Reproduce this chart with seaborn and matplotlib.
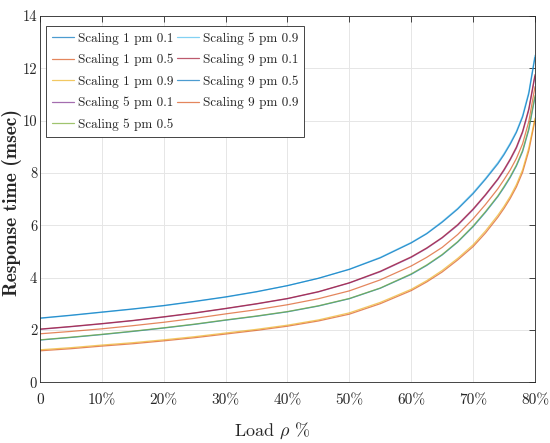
import numpy as np
import pandas as pd
import seaborn as sns
import matplotlib
matplotlib.use('Agg')
import matplotlib.pyplot as plt

# load (%) and response times (msec)
load_pct = [0, 5, 10, 15, 20, 25, 30, 35, 40, 45, 50, 55, 60, 62.5, 65, 67.5,
            70, 72, 74, 75, 76, 77, 78, 79, 80]

s1_01 = [1.62, 1.72, 1.83, 1.95, 2.08, 2.22, 2.38, 2.53, 2.70, 2.92, 3.20, 3.60, 4.13,
         4.47, 4.87, 5.36, 5.95, 6.50, 7.10, 7.45, 7.83, 8.27, 8.82, 9.65, 10.90]
s1_05 = [1.21, 1.29, 1.39, 1.48, 1.59, 1.71, 1.85, 1.99, 2.15, 2.35, 2.61, 3.01, 3.51,
         3.84, 4.22, 4.68, 5.19, 5.71, 6.31, 6.65, 7.03, 7.47, 8.03, 8.85, 10.02]
s1_09 = [1.25, 1.33, 1.43, 1.52, 1.63, 1.75, 1.89, 2.03, 2.19, 2.39, 2.66, 3.06, 3.56,
         3.89, 4.28, 4.74, 5.26, 5.79, 6.39, 6.73, 7.11, 7.56, 8.13, 8.96, 10.10]
s5_01 = [2.03, 2.13, 2.24, 2.36, 2.50, 2.65, 2.82, 3.00, 3.20, 3.46, 3.80, 4.23, 4.78,
         5.12, 5.52, 6.00, 6.60, 7.15, 7.75, 8.10, 8.50, 8.95, 9.55, 10.40, 11.70]
s5_05 = [1.63, 1.73, 1.84, 1.96, 2.09, 2.23, 2.39, 2.54, 2.71, 2.93, 3.21, 3.61, 4.15,
         4.49, 4.89, 5.38, 5.98, 6.53, 7.13, 7.49, 7.87, 8.31, 8.87, 9.71, 10.96]
s5_09 = [2.45, 2.56, 2.68, 2.80, 2.93, 3.09, 3.26, 3.46, 3.70, 3.98, 4.33, 4.78, 5.35,
         5.70, 6.15, 6.65, 7.25, 7.80, 8.40, 8.75, 9.15, 9.60, 10.20, 11.10, 12.50]
s9_01 = [2.04, 2.14, 2.25, 2.37, 2.51, 2.66, 2.83, 3.01, 3.21, 3.47, 3.81, 4.25, 4.80,
         5.14, 5.54, 6.03, 6.63, 7.18, 7.78, 8.14, 8.54, 9.00, 9.60, 10.46, 11.76]
s9_05 = [2.46, 2.57, 2.69, 2.81, 2.94, 3.10, 3.27, 3.47, 3.70, 3.98, 4.32, 4.76, 5.33,
         5.68, 6.12, 6.62, 7.21, 7.76, 8.35, 8.70, 9.10, 9.55, 10.14, 11.03, 12.42]
s9_09 = [1.86, 1.95, 2.05, 2.17, 2.30, 2.45, 2.62, 2.78, 2.97, 3.20, 3.50, 3.92, 4.45,
         4.78, 5.16, 5.65, 6.25, 6.80, 7.40, 7.75, 8.12, 8.56, 9.12, 9.97, 11.30]

labels = ['Scaling 1 pm 0.1', 'Scaling 1 pm 0.5', 'Scaling 1 pm 0.9',
          'Scaling 5 pm 0.1', 'Scaling 5 pm 0.5', 'Scaling 5 pm 0.9',
          'Scaling 9 pm 0.1', 'Scaling 9 pm 0.5', 'Scaling 9 pm 0.9']
series = [s1_01, s1_05, s1_09, s5_01, s5_05, s5_09, s9_01, s9_05, s9_09]

xtick_vals = [0, 10, 20, 30, 40, 50, 60, 70, 80]
xtick_labels = ['0', '10%', '20%', '30%', '40%', '50%', '60%', '70%', '80%']

# matlab default colour order
colors = [(0, 0.447, 0.741), (0.850, 0.325, 0.098), (0.929, 0.694, 0.125),
          (0.494, 0.184, 0.556), (0.466, 0.674, 0.188), (0.301, 0.745, 0.933),
          (0.635, 0.078, 0.184), (0, 0.447, 0.741), (0.850, 0.325, 0.098)]

rows = []
for lab, ys in zip(labels, series):
    for x, y in zip(load_pct, ys):
        rows.append({'load': x, 'resp': y, 'series': lab})
df = pd.DataFrame(rows)

sns.set_style('white')
plt.rcParams['font.family'] = ['cmr10']
plt.rcParams['mathtext.fontset'] = 'cm'
plt.rcParams['axes.unicode_minus'] = False

fig = plt.figure(figsize=(5.5, 4.43), dpi=100)
ax = fig.add_axes([0.0727, 0.1366, 0.9, 0.8273])

sns.lineplot(data=df, x='load', y='resp', hue='series', hue_order=labels,
             palette=colors, linewidth=0.9, alpha=0.7, ax=ax)

ax.set_xlim(0, 80)
ax.set_ylim(0, 14)
ax.set_xticks(xtick_vals)
ax.set_xticklabels(xtick_labels)
ax.set_yticks(range(0, 15, 2))
ax.tick_params(direction='in', top=True, right=True, labelsize=11,
               length=4, width=0.6, colors=(0.15, 0.15, 0.15))
ax.tick_params(axis='x', pad=8)
ax.tick_params(axis='y', pad=2, labelsize=10.5)
ax.grid(True, color=(0.9, 0.9, 0.9), linewidth=0.7)
for sp in ax.spines.values():
    sp.set_visible(True)
    sp.set_color((0.15, 0.15, 0.15))
    sp.set_linewidth(0.6)

ax.set_xlabel(r'Load $\rho$ %', fontsize=13)
ax.xaxis.set_label_coords(0.47, -0.105)
ax.set_ylabel('Response time (msec)', fontsize=14, fontfamily='cmb10')
ax.yaxis.set_label_coords(-0.037, 0.49)

handles, labs = ax.get_legend_handles_labels()
leg = ax.legend(handles, labs, ncol=2, loc='upper left', bbox_to_anchor=(0.012, 0.972),
                fontsize=9.5, frameon=True, fancybox=False, framealpha=1,
                edgecolor=(0.15, 0.15, 0.15), handlelength=1.7, handletextpad=0.25,
                columnspacing=0.3, labelspacing=0.7, borderpad=0.45, borderaxespad=0)
leg.get_frame().set_linewidth(0.6)

fig.savefig('out.png', dpi=100)
